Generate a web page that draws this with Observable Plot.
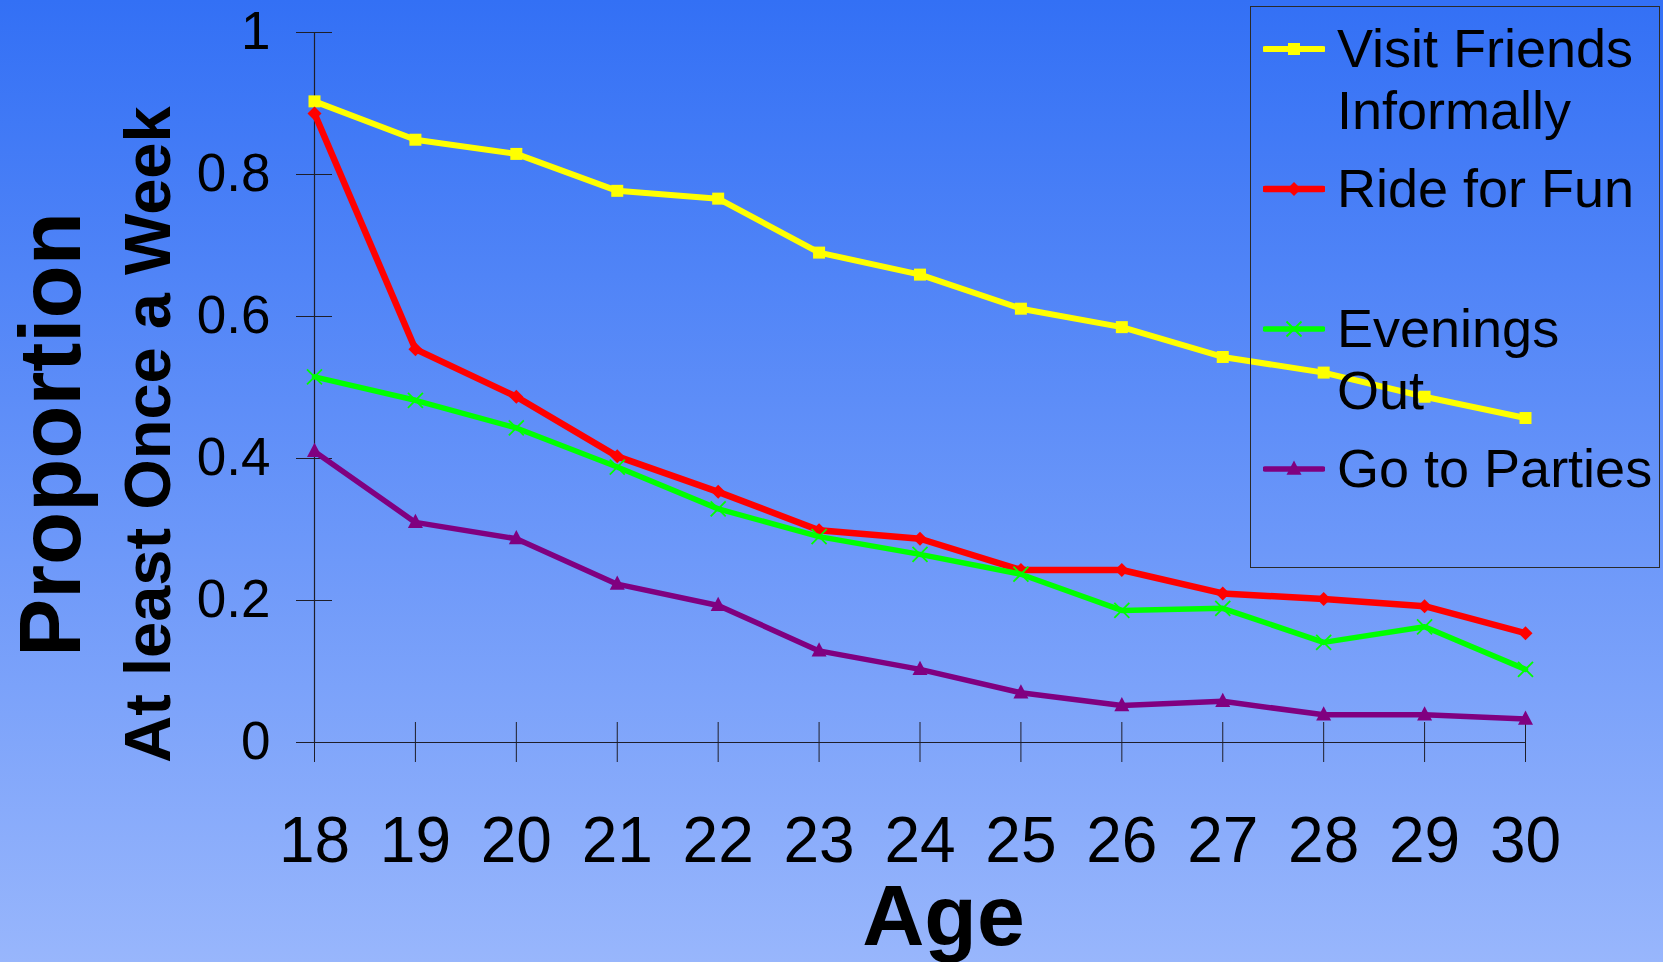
<!DOCTYPE html>
<html><head><meta charset="utf-8">
<script src="https://cdn.jsdelivr.net/npm/d3@7"></script>
<script src="https://cdn.jsdelivr.net/npm/@observablehq/plot@0.6"></script>
<style>
html,body{margin:0;padding:0;width:1663px;height:962px;overflow:hidden;}
body{background:linear-gradient(to bottom,#3370f5 0%,#98b6fc 100%);font-family:"Liberation Sans",Arial,sans-serif;}
#wrap{position:relative;width:1663px;height:962px;}
#legend{position:absolute;left:1250px;top:6px;width:410px;height:562px;border:1.3px solid #2a2a2a;box-sizing:border-box;}
.item{position:absolute;left:0;width:100%;}
.item svg{position:absolute;left:12px;}
.item .lbl{position:absolute;left:86px;top:0;font-size:54px;line-height:62px;white-space:pre;color:#000;}
</style></head>
<body><div id="wrap"><div id="chart"></div><div id="legend"></div></div>
<script>
// ---- data ----
const ages = [18, 19, 20, 21, 22, 23, 24, 25, 26, 27, 28, 29, 30];
const visitFriends = [0.903, 0.849, 0.829, 0.777, 0.766, 0.690, 0.659, 0.611, 0.585, 0.543, 0.521, 0.487, 0.457];
const rideForFun   = [0.886, 0.554, 0.487, 0.403, 0.353, 0.299, 0.287, 0.243, 0.243, 0.210, 0.202, 0.192, 0.154];
const eveningsOut  = [0.515, 0.482, 0.443, 0.388, 0.329, 0.290, 0.265, 0.237, 0.186, 0.189, 0.141, 0.163, 0.103];
const goToParties  = [0.410, 0.310, 0.287, 0.223, 0.193, 0.129, 0.103, 0.070, 0.052, 0.058, 0.039, 0.039, 0.033];
const seriesNames = ["Visit Friends\nInformally", "Ride for Fun", "Evenings\nOut", "Go to Parties"];
const yTicks = [0, 0.2, 0.4, 0.6, 0.8, 1];
const xTitle = "Age";
const yTitle1 = "Proportion";
const yTitle2 = "At least Once a Week";

// ---- styles ----
const seriesColors = ["#ffff00", "#ff0000", "#00ff00", "#800080"];
const sq = {draw(c, s){ const r = Math.sqrt(s/Math.PI); c.rect(-r, -r, 2*r, 2*r); }};
const dia = {draw(c, s){ const r = Math.sqrt(s/Math.PI); c.moveTo(0,-r); c.lineTo(r,0); c.lineTo(0,r); c.lineTo(-r,0); c.closePath(); }};
const tri = {draw(c, s){ const r = Math.sqrt(s/Math.PI); c.moveTo(0,-r*1.15); c.lineTo(r,r*0.75); c.lineTo(-r,r*0.75); c.closePath(); }};
const xs = {draw(c, s){ const r = Math.sqrt(s/Math.PI); c.moveTo(-r,-r); c.lineTo(r,r); c.moveTo(r,-r); c.lineTo(-r,r); }};
const symbols = [sq, dia, xs, tri];
const radii = [6, 7, 7.5, 7.5];
const filled = [true, true, false, true];
const lineWidths = [6, 6.5, 5.5, 5.5];
const allValues = [visitFriends, rideForFun, eveningsOut, goToParties];

const seriesData = allValues.map((vals, i) => ages.map((a, j) => ({age: a, value: vals[j], series: seriesNames[i]})));

const axisColor = "#1e1e2a";
const marks = [
  Plot.ruleY([0], {stroke: axisColor, strokeWidth: 1.2}),
  Plot.ruleX([ages[0]], {stroke: axisColor, strokeWidth: 1.2}),
  Plot.axisX({ticks: ages, tickSize: 40, dy: -20, fill: "none", stroke: axisColor, label: null}),
  Plot.axisX({ticks: ages, tickSize: 0, stroke: "none", tickPadding: 74, fontSize: 64, fill: "#000", tickFormat: d => String(d), label: null}),
  Plot.axisY({ticks: yTicks, tickSize: 36, dx: 18, fill: "none", stroke: axisColor, label: null}),
  Plot.axisY({ticks: yTicks, tickSize: 0, stroke: "none", tickPadding: 44, fontSize: 53, fill: "#000", tickFormat: d => String(d), label: null}),
  Plot.text([xTitle], {text: d => d, frameAnchor: "bottom", textAnchor: "middle", lineAnchor: "middle", dx: 23.5, dy: 175, fontSize: 86, fontWeight: "bold", fill: "#000"}),
  Plot.text([yTitle1], {text: d => d, frameAnchor: "left", textAnchor: "middle", lineAnchor: "middle", rotate: -90, dx: -262, dy: 47, fontSize: 87, fontWeight: "bold", fill: "#000"}),
  Plot.text([yTitle2], {text: d => d, frameAnchor: "left", textAnchor: "middle", lineAnchor: "middle", rotate: -90, dx: -165, dy: 47, fontSize: 65, fontWeight: "bold", fill: "#000"})
];
seriesData.forEach((d, i) => {
  marks.push(Plot.line(d, {x: "age", y: "value", stroke: seriesColors[i], strokeWidth: lineWidths[i]}));
  marks.push(Plot.dot(d, {x: "age", y: "value", symbol: symbols[i], r: radii[i],
    fill: filled[i] ? seriesColors[i] : "none", stroke: filled[i] ? "none" : seriesColors[i], strokeWidth: filled[i] ? 0 : 1.8}));
});

const chart = Plot.plot({
  width: 1663, height: 962,
  marginLeft: 314, marginRight: 138, marginTop: 32, marginBottom: 220,
  x: {domain: [18, 30], label: null},
  y: {domain: [0, 1], label: null},
  style: {background: "transparent", fontFamily: "'Liberation Sans', Arial, sans-serif", overflow: "visible"},
  marks
});
document.getElementById("chart").appendChild(chart);

// ---- legend ----
const legend = document.getElementById("legend");
seriesNames.forEach((name, i) => {
  const item = document.createElement("div");
  item.className = "item";
  item.style.top = (10 + i * 140) + "px";
  const svg = d3.create("svg").attr("width", 62).attr("height", 24).style("top", "20px");
  svg.append("line").attr("x1", 2).attr("x2", 60).attr("y1", 12).attr("y2", 12)
    .attr("stroke", seriesColors[i]).attr("stroke-width", lineWidths[i]).attr("stroke-linecap", "round");
  const p = d3.path();
  symbols[i].draw(p, radii[i] * radii[i] * Math.PI);
  svg.append("path").attr("transform", "translate(31,12)").attr("d", p.toString())
    .attr("fill", filled[i] ? seriesColors[i] : "none").attr("stroke", filled[i] ? "none" : seriesColors[i]).attr("stroke-width", 1.8);
  item.appendChild(svg.node());
  const lbl = document.createElement("div");
  lbl.className = "lbl";
  lbl.textContent = name;
  item.appendChild(lbl);
  legend.appendChild(item);
});
</script>
</body></html>
